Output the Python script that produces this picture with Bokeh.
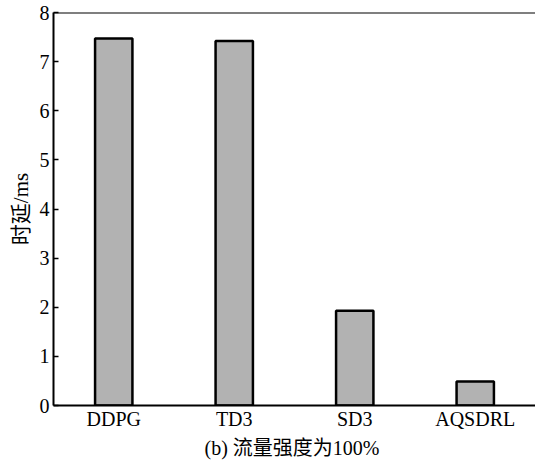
from bokeh.plotting import figure
from bokeh.models import FixedTicker, Span, Range1d
from bokeh.embed import file_html
from bokeh.resources import INLINE

# Mean delay per algorithm at 100% traffic intensity
algorithms = ["DDPG", "TD3", "SD3", "AQSDRL"]
delay_ms = [7.47, 7.42, 1.93, 0.49]
y_ticks = [0, 1, 2, 3, 4, 5, 6, 7, 8]

FONT = "Liberation Serif, Noto Sans CJK SC"

p = figure(
    x_range=algorithms,
    y_range=Range1d(0, 8),
    width=535,
    height=461,
    output_backend="svg",
    toolbar_location=None,
    min_border_left=53,
    min_border_right=0,
    min_border_top=12,
    min_border_bottom=54,
)

p.vbar(x=algorithms, top=delay_ms, width=0.31, bottom=0,
       fill_color="#b2b2b2", line_color="black", line_width=2.5)

p.grid.visible = False
p.outline_line_color = None

# top border of the box
p.add_layout(Span(location=8, dimension="width", line_color="black", line_width=2))

p.yaxis.ticker = FixedTicker(ticks=y_ticks)
p.yaxis.major_tick_in = 5
p.yaxis.major_tick_out = 0
p.yaxis.minor_tick_line_color = None
p.yaxis.axis_line_width = 2
p.yaxis.major_tick_line_width = 1.5
p.yaxis.major_label_text_font = FONT
p.yaxis.major_label_text_font_size = "20px"
p.yaxis.major_label_text_color = "black"
p.yaxis.major_label_standoff = 4
p.yaxis.axis_label = "时延/ms"
p.yaxis.axis_label_text_font = FONT
p.yaxis.axis_label_text_font_size = "21px"
p.yaxis.axis_label_text_font_style = "normal"
p.yaxis.axis_label_text_color = "black"
p.yaxis.axis_label_standoff = 4

p.xaxis.major_tick_line_color = None
p.xaxis.minor_tick_line_color = None
p.xaxis.axis_line_width = 2
p.xaxis.major_label_text_font = FONT
p.xaxis.major_label_text_font_size = "20px"
p.xaxis.major_label_text_color = "black"
p.xaxis.major_label_standoff = -4
p.xaxis.axis_label = "(b)  流量强度为100%"
p.xaxis.axis_label_text_font = FONT
p.xaxis.axis_label_text_font_size = "20px"
p.xaxis.axis_label_text_font_style = "normal"
p.xaxis.axis_label_text_color = "black"
p.xaxis.axis_label_standoff = 4

open("out.html", "w").write(file_html(p, INLINE))
